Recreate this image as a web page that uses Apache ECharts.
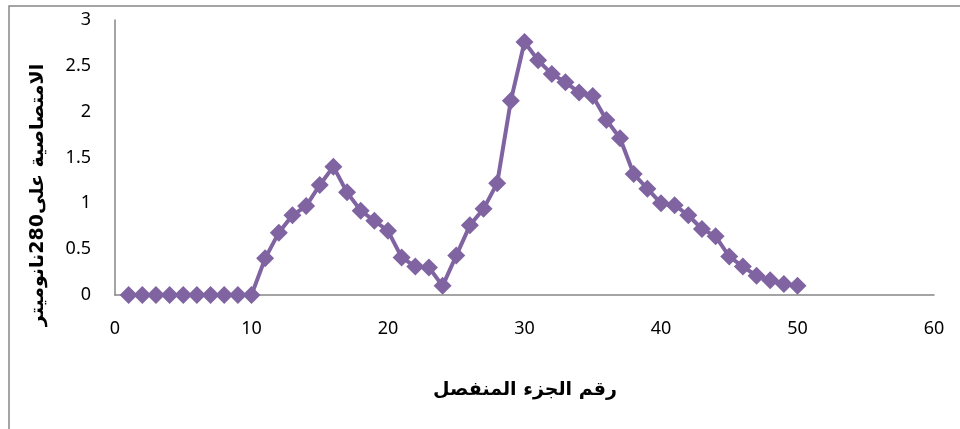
<!DOCTYPE html>
<html>
<head>
<meta charset="utf-8">
<script src="https://cdn.jsdelivr.net/npm/echarts@6/dist/echarts.min.js"></script>
<style>
html,body{margin:0;padding:0;background:#fff;}
#chart{width:960px;height:429px;}
</style>
</head>
<body>
<div id="chart"></div>
<script>
var segments = [1,2,3,4,5,6,7,8,9,10,11,12,13,14,15,16,17,18,19,20,21,22,23,24,25,26,27,28,29,30,31,32,33,34,35,36,37,38,39,40,41,42,43,44,45,46,47,48,49,50];
var absorbance = [0,0,0,0,0,0,0,0,0,0,
  0.40,0.68,0.87,0.97,1.20,1.40,1.12,0.92,0.81,0.70,
  0.41,0.31,0.30,0.10,0.43,0.76,0.94,1.22,2.12,2.76,
  2.56,2.41,2.32,2.21,2.17,1.91,1.71,1.32,1.16,1.00,
  0.98,0.87,0.72,0.64,0.42,0.31,0.21,0.16,0.12,0.10];
var xTicks = [0,10,20,30,40,50,60];
var yTicks = [0,0.5,1,1.5,2,2.5,3];
var xTitle = 'رقم الجزء المنفصل';
var yTitle = 'الامتصاصية على280نانوميتر';

var chart = echarts.init(document.getElementById('chart'), null, {renderer:'canvas'});
var pts = segments.map(function(s,i){return [s, absorbance[i]];});
chart.setOption({
  animation:false,
  backgroundColor:'#ffffff',
  grid:{left:115, right:26, top:20, bottom:134, containLabel:false},
  xAxis:{
    type:'value', min:xTicks[0], max:xTicks[xTicks.length-1], interval:10,
    axisLine:{show:true, onZero:false, lineStyle:{color:'#868686', width:1.5}},
    axisTick:{show:false},
    splitLine:{show:false},
    axisLabel:{color:'#000', fontFamily:'Noto Sans', fontSize:18, margin:25}
  },
  yAxis:{
    type:'value', min:yTicks[0], max:yTicks[yTicks.length-1], interval:0.5,
    axisLine:{show:true, lineStyle:{color:'#868686', width:1.5}},
    axisTick:{show:false},
    splitLine:{show:false},
    axisLabel:{color:'#000', fontFamily:'Noto Sans', fontSize:18, margin:24}
  },
  series:[{
    type:'line',
    data:pts,
    symbol:'diamond',
    symbolSize:18,
    itemStyle:{color:'#8064A2'},
    lineStyle:{color:'#8064A2', width:4},
    z:3
  }],
  graphic:[
    {type:'rect', shape:{x:9, y:6, width:1000, height:500}, style:{fill:null, stroke:'#878787', lineWidth:1.5}, silent:true},
    {type:'text', x:525, y:390, style:{text:xTitle, font:'bold 19px "DejaVu Sans"', fill:'#000', textAlign:'center', textVerticalAlign:'middle'}},
    {type:'text', rotation:Math.PI/2, x:38, y:195, style:{text:yTitle, font:'bold 19px "DejaVu Sans"', fill:'#000', textAlign:'center', textVerticalAlign:'middle'}}
  ]
});
</script>
</body>
</html>
